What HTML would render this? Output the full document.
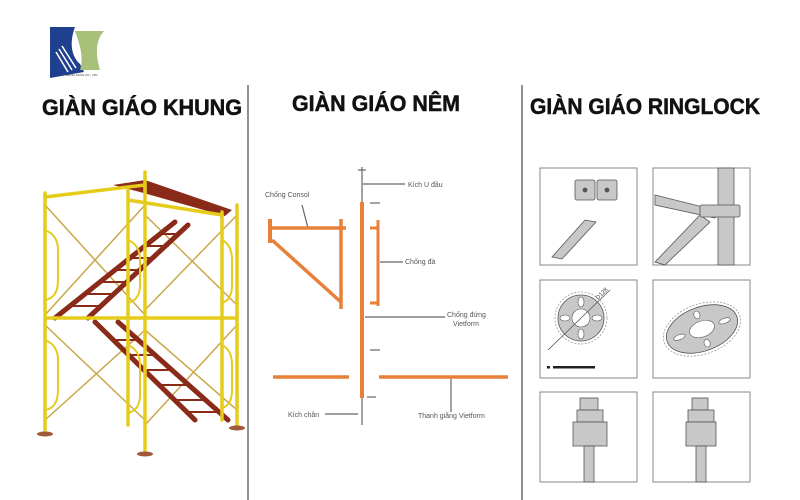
<!DOCTYPE html>
<html><head><meta charset="utf-8"><style>
html,body{margin:0;padding:0;background:#fff;}
svg{display:block}
text{font-family:"Liberation Sans",sans-serif}
</style></head><body>
<svg width="800" height="500" viewBox="0 0 800 500" xmlns="http://www.w3.org/2000/svg">
<rect width="800" height="500" fill="#fff"/>
<!-- logo -->
<path d="M50 27 H75 C70 40 70 55 80 64 L84 72 L50 78 Z" fill="#1f3f8f"/>
<path d="M75 31 H104 C96 40 95 52 100 70 H80 C84 58 80 45 75 31 Z" fill="#a7c07a"/>
<path d="M56 52 L68 72 M59 49 L72 70 M62 46 L76 68" stroke="#fff" stroke-width="1.5"/>
<text x="66" y="76" font-size="3" fill="#333">HUNG SANG CO., LTD</text>
<!-- dividers -->
<line x1="248" y1="85" x2="248" y2="500" stroke="#222" stroke-width="1"/>
<line x1="522" y1="85" x2="522" y2="500" stroke="#222" stroke-width="1"/>
<!-- headings -->
<g font-weight="bold" font-size="22" fill="#111" stroke="#111" stroke-width="0.5">
<text x="42" y="115" textLength="200" lengthAdjust="spacingAndGlyphs">GIÀN GIÁO KHUNG</text>
<text x="292" y="111" textLength="168" lengthAdjust="spacingAndGlyphs">GIÀN GIÁO NÊM</text>
<text x="530" y="114" textLength="230" lengthAdjust="spacingAndGlyphs">GIÀN GIÁO RINGLOCK</text>
</g>
<!-- left scaffold -->
<g stroke-linecap="round">
<g stroke="#c8a84a" stroke-width="1.5">
<line x1="45" y1="205" x2="145" y2="315"/><line x1="145" y1="205" x2="45" y2="315"/>
<line x1="145" y1="215" x2="237" y2="305"/><line x1="237" y1="215" x2="145" y2="310"/>
<line x1="45" y1="325" x2="145" y2="420"/><line x1="145" y1="330" x2="45" y2="420"/>
<line x1="145" y1="330" x2="237" y2="410"/><line x1="237" y1="325" x2="145" y2="425"/>
</g>
<polygon points="113,185 145,180 232,210 225,216 140,192" fill="#8a2a18"/>
<g stroke="#8a2a18" stroke-width="5">
<line x1="55" y1="318" x2="175" y2="222"/><line x1="88" y1="318" x2="188" y2="225"/>
<line x1="95" y1="322" x2="195" y2="420"/><line x1="118" y1="322" x2="228" y2="420"/>
</g>
<g stroke="#8a2a18" stroke-width="2">
<line x1="70" y1="306" x2="100" y2="306"/><line x1="85" y1="294" x2="115" y2="294"/><line x1="100" y1="282" x2="128" y2="282"/><line x1="115" y1="270" x2="142" y2="270"/><line x1="130" y1="258" x2="155" y2="258"/><line x1="145" y1="246" x2="168" y2="246"/><line x1="160" y1="234" x2="180" y2="234"/>
<line x1="115" y1="340" x2="140" y2="340"/><line x1="130" y1="355" x2="155" y2="355"/><line x1="145" y1="370" x2="172" y2="370"/><line x1="160" y1="385" x2="188" y2="385"/><line x1="175" y1="400" x2="205" y2="400"/><line x1="190" y1="412" x2="220" y2="412"/>
</g>
<g stroke="#e6cc1a" stroke-width="3.5">
<line x1="45" y1="193" x2="45" y2="430"/><line x1="145" y1="172" x2="145" y2="450"/><line x1="237" y1="205" x2="237" y2="425"/>
<line x1="128" y1="190" x2="128" y2="425"/><line x1="222" y1="212" x2="222" y2="420"/>
<line x1="45" y1="197" x2="145" y2="185"/><line x1="45" y1="318" x2="237" y2="318"/>
<line x1="128" y1="200" x2="222" y2="215"/>
</g>
<g stroke="#e6cc1a" stroke-width="2" fill="none">
<path d="M45 230 Q58 235 58 250 V280 Q58 298 45 300"/>
<path d="M45 340 Q58 345 58 360 V390 Q58 408 45 410"/>
<path d="M128 240 Q140 245 140 260 V285 Q140 300 128 303"/>
<path d="M222 240 Q232 245 232 260 V285 Q232 300 222 303"/>
<path d="M128 345 Q140 350 140 365 V395 Q140 410 128 413"/>
<path d="M222 345 Q232 350 232 365 V390 Q232 405 222 408"/>
</g>
<g fill="#a05a3a"><ellipse cx="45" cy="434" rx="8" ry="2.5"/><ellipse cx="145" cy="454" rx="8" ry="2.5"/><ellipse cx="237" cy="428" rx="8" ry="2.5"/></g>
</g>
<!-- middle diagram -->
<g stroke="#666" stroke-width="1.2" fill="none">
<line x1="362" y1="167" x2="362" y2="202"/><line x1="358" y1="170" x2="366" y2="170"/>
<line x1="362" y1="398" x2="362" y2="425"/>
<line x1="363" y1="184" x2="405" y2="184"/>
<line x1="380" y1="262" x2="403" y2="262"/>
<line x1="365" y1="317" x2="445" y2="317"/>
<line x1="325" y1="414" x2="358" y2="414"/>
<line x1="451" y1="378" x2="451" y2="412"/>
<line x1="302" y1="205" x2="308" y2="228"/>
<line x1="370" y1="203" x2="380" y2="203"/><line x1="370" y1="350" x2="380" y2="350"/><line x1="367" y1="397" x2="376" y2="397"/>
</g>
<g stroke="#e8803a" stroke-linecap="butt">
<line x1="362" y1="202" x2="362" y2="398" stroke-width="4"/>
<line x1="268" y1="228" x2="346" y2="228" stroke-width="3.5"/>
<line x1="270" y1="219" x2="270" y2="243" stroke-width="4"/>
<line x1="272" y1="240" x2="342" y2="303" stroke-width="3.5"/>
<line x1="341" y1="219" x2="341" y2="309" stroke-width="3.5"/>
<line x1="378" y1="220" x2="378" y2="306" stroke-width="3"/>
<line x1="370" y1="228" x2="378" y2="228" stroke-width="3"/>
<line x1="370" y1="303" x2="378" y2="303" stroke-width="3"/>
<line x1="273" y1="377" x2="349" y2="377" stroke-width="3.5"/>
<line x1="379" y1="377" x2="508" y2="377" stroke-width="3.5"/>
</g>
<g font-family="Liberation Serif,serif" font-size="7" fill="#555">
<text x="265" y="197">Chống Consol</text>
<text x="408" y="187">Kích U đầu</text>
<text x="405" y="264">Chống đà</text>
<text x="447" y="317">Chống đứng</text><text x="453" y="326">Vietform</text>
<text x="288" y="417">Kích chân</text>
<text x="418" y="418">Thanh giằng Vietform</text>
</g>
<!-- ringlock panels -->
<g fill="#fff" stroke="#888" stroke-width="1">
<rect x="540" y="168" width="97" height="97"/><rect x="653" y="168" width="97" height="97"/>
<rect x="540" y="280" width="97" height="98"/><rect x="653" y="280" width="97" height="98"/>
<rect x="540" y="392" width="97" height="90"/><rect x="653" y="392" width="97" height="90"/>
</g>
<g fill="#c8c8c8" stroke="#555" stroke-width="0.8">
<polygon points="552,257 585,220 596,222 562,259"/>
<rect x="575" y="180" width="20" height="20" rx="2"/><rect x="597" y="180" width="20" height="20" rx="2"/>
<circle cx="585" cy="190" r="2" fill="#555"/><circle cx="607" cy="190" r="2" fill="#555"/>
<rect x="718" y="168" width="16" height="97"/>
<polygon points="655,195 715,210 715,218 655,205"/>
<polygon points="655,262 700,215 710,222 665,265"/>
<rect x="700" y="205" width="40" height="12" rx="2"/>
</g>
<!-- rosette left -->
<circle cx="581" cy="318" r="26" fill="none" stroke="#999" stroke-width="0.8" stroke-dasharray="2,1.5"/>
<circle cx="581" cy="318" r="23" fill="#c8c8c8" stroke="#555" stroke-width="0.8"/>
<g fill="#fff" stroke="#555" stroke-width="0.6">
<circle cx="581" cy="318" r="9"/>
<ellipse cx="581" cy="302" rx="3" ry="5"/><ellipse cx="581" cy="334" rx="3" ry="5"/>
<ellipse cx="565" cy="318" rx="5" ry="3"/><ellipse cx="597" cy="318" rx="5" ry="3"/>
</g>
<line x1="548" y1="350" x2="610" y2="290" stroke="#555" stroke-width="0.8"/>
<text x="598" y="300" font-size="6" fill="#444" transform="rotate(-45 598 300)">D128</text>
<rect x="553" y="366" width="42" height="2.5" fill="#222"/>
<rect x="547" y="366" width="3" height="2.5" fill="#222"/>
<!-- rosette right -->
<g transform="rotate(-20 702 329)">
<ellipse cx="702" cy="329" rx="40" ry="25" fill="none" stroke="#999" stroke-width="0.8" stroke-dasharray="2,1.5"/>
<ellipse cx="702" cy="329" rx="37" ry="22" fill="#c8c8c8" stroke="#555" stroke-width="0.8"/>
<g fill="#fff" stroke="#555" stroke-width="0.6">
<ellipse cx="702" cy="329" rx="13" ry="8"/>
<ellipse cx="702" cy="314" rx="3" ry="4"/><ellipse cx="702" cy="344" rx="3" ry="4"/>
<ellipse cx="678" cy="329" rx="6" ry="2.5"/><ellipse cx="726" cy="329" rx="6" ry="2.5"/>
</g>
</g>
<!-- clips -->
<g fill="#c8c8c8" stroke="#555" stroke-width="0.8">
<rect x="580" y="398" width="18" height="12"/>
<rect x="577" y="410" width="26" height="12"/>
<rect x="573" y="422" width="34" height="24"/>
<rect x="584" y="446" width="10" height="36"/>
<rect x="692" y="398" width="16" height="12"/>
<rect x="688" y="410" width="26" height="12"/>
<rect x="686" y="422" width="30" height="24"/>
<rect x="696" y="446" width="10" height="36"/>
</g>
</svg>
</body></html>
